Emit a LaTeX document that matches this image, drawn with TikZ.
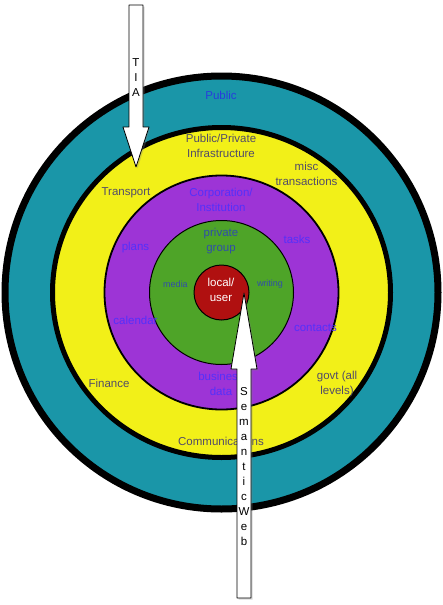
\documentclass[tikz,border=0pt]{standalone}
\usepackage{fontspec}
\setmainfont{Liberation Sans}
\usetikzlibrary{calc,shadows}

\definecolor{ringteal}{RGB}{26,150,168}
\definecolor{ringyellow}{RGB}{242,240,24}
\definecolor{ringpurple}{RGB}{157,52,214}
\definecolor{ringgreen}{RGB}{78,164,40}
\definecolor{ringred}{RGB}{176,16,16}
\definecolor{pubblue}{RGB}{40,60,220}
\definecolor{infragrey}{RGB}{82,76,104}
\definecolor{corpblue}{RGB}{84,48,250}
\definecolor{groupblue}{RGB}{48,78,168}

\begin{document}
\begin{tikzpicture}[
  x=1pt,y=-1pt,
  line join=round,
  ring/.style={draw=black},
  lbl/.style={font=\fontsize{11.5}{15}\selectfont,align=center,inner sep=0pt},
  smalllbl/.style={font=\fontsize{9}{11}\selectfont,inner sep=0pt},
  letter/.style={font=\fontsize{11.5}{14}\selectfont,inner sep=0pt,anchor=base},
  arrowbody/.style={draw=black,fill=white,line width=0.8pt,
    drop shadow={shadow xshift=1.5pt,shadow yshift=-1.5pt,opacity=0.3}}
]
\useasboundingbox (0,0) rectangle (442,605);

% Rings
\coordinate (O) at (221.5,292.5);
\def\rpublic{216.5}
\def\rinfrax{169}
\def\rinfray{165}
\def\rcorp{117}
\def\rgroup{72}
\def\rlocal{27.5}

\draw[ring,fill=ringteal,line width=7pt] (O) circle [radius=\rpublic];
\draw[ring,fill=ringyellow,line width=5pt] (O) ellipse [x radius=\rinfrax,y radius=\rinfray];
\draw[ring,fill=ringpurple,line width=1.8pt] (O) circle [radius=\rcorp];
\draw[ring,fill=ringgreen,line width=1pt] (O) circle [radius=\rgroup];
\draw[ring,fill=ringred,line width=1pt] (O) circle [radius=\rlocal];

% outer ring labels
\node[lbl,text=pubblue] (public) at (221,95) {Public};
\node[lbl,text=infragrey] (infra) at (221,146) {Public/Private\\Infrastructure};
\node[lbl,text=infragrey] (misc) at (306.5,174) {misc\\transactions};
\node[lbl,text=infragrey] (transport) at (126,193) {Transport};
\node[lbl,text=infragrey] (finance) at (109,383) {Finance};
\node[lbl,text=infragrey] (govt) at (337,384) {govt (all\\levels)};
\node[lbl,text=infragrey] (comms) at (221,441) {Communications};

% corporation ring labels
\node[lbl,text=corpblue] (corp) at (221,200) {Corporation/\\Institution};
\node[lbl,text=corpblue] (plans) at (135.5,248) {plans};
\node[lbl,text=corpblue] (tasks) at (297,239) {tasks};
\node[lbl,text=corpblue] (calendar) at (135.5,320) {calendar};
\node[lbl,text=corpblue] (contacts) at (315.5,328) {contacts};
\node[lbl,text=corpblue] (bizdata) at (221,384) {business\\data};

% group and local labels
\node[lbl,text=groupblue] (group) at (221,241) {private\\group};
\node[smalllbl,text=groupblue] (media) at (175.5,284) {media};
\node[smalllbl,text=groupblue] (writing) at (270,284) {writing};
\node[lbl,text=white] (local) at (221,290) {local/\\user};

% TIA arrow
\coordinate (tiatip) at (136,167);
\def\shaft{7}
\def\head{13}
\draw[arrowbody] ($(tiatip)+(-\shaft,-162)$) -- ($(tiatip)+(\shaft,-162)$)
  -- ($(tiatip)+(\shaft,-40)$) -- ($(tiatip)+(\head,-40)$) -- (tiatip)
  -- ($(tiatip)+(-\head,-40)$) -- ($(tiatip)+(-\shaft,-40)$) -- cycle;
\foreach \ch [count=\i] in {T,I,A}
  \node[letter] (tia\i) at ($(tiatip)+(0,{-101+15*(\i-1)})$) {\ch};

% Semantic Web arrow
\coordinate (swtip) at (244,293);
\draw[arrowbody] ($(swtip)+(-\shaft,305)$) -- ($(swtip)+(\shaft,305)$)
  -- ($(swtip)+(\shaft,76)$) -- ($(swtip)+(\head,76)$) -- (swtip)
  -- ($(swtip)+(-\head,76)$) -- ($(swtip)+(-\shaft,76)$) -- cycle;
\foreach \ch [count=\i] in {S,e,m,a,n,t,i,c,W,e,b}
  \node[letter] (sw\i) at ($(swtip)+(0,{102+15*(\i-1)})$) {\ch};

\end{tikzpicture}
\end{document}
